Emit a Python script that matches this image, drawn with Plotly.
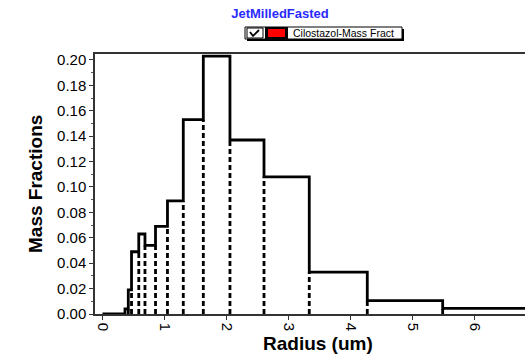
import plotly.graph_objects as go

# Particle-size bins (radius, um) and the mass fraction in each bin
bin_edges = [0.363, 0.416, 0.468, 0.585, 0.685, 0.855, 1.048, 1.303,
             1.626, 2.056, 2.605, 3.335, 4.271, 5.487, 7.05]
mass_fractions = [0.004, 0.019, 0.049, 0.063, 0.054, 0.069, 0.089, 0.153,
                  0.203, 0.137, 0.108, 0.033, 0.0105, 0.0045]
x_ticks = [0, 1, 2, 3, 4, 5, 6]
y_ticks = [0.00, 0.02, 0.04, 0.06, 0.08, 0.10, 0.12, 0.14, 0.16, 0.18, 0.20]

title_text = "JetMilledFasted"
series_name = "Cilostazol-Mass Fract"
x_title = "Radius (um)"
y_title = "Mass Fractions"

W, H = 525, 355
ML, MR, MT, MB = 95, 0, 54, 41
PW, PH = W - ML - MR, H - MT - MB
FONT = "Liberation Sans, Arial, sans-serif"


def px(xp):
    return (xp - ML) / PW


def py(yp):
    return (H - MB - yp) / PH


fig = go.Figure()

# Outline of the histogram (solid step line)
step_x = [0] + bin_edges
step_y = [0] + mass_fractions + [mass_fractions[-1]]
fig.add_trace(go.Scatter(
    x=step_x, y=step_y, mode="lines", line_shape="hv",
    line=dict(color="black", width=2.8), showlegend=False, hoverinfo="skip",
))

# Dashed dividers between neighbouring bins
for i in range(1, len(mass_fractions)):
    top = min(mass_fractions[i - 1], mass_fractions[i])
    fig.add_trace(go.Scatter(
        x=[bin_edges[i], bin_edges[i]], y=[0, top], mode="lines",
        line=dict(color="black", width=2.8, dash="5px,3px"),
        showlegend=False, hoverinfo="skip",
    ))

shapes = []
# Legend frame with drop shadow
shapes.append(dict(type="rect", xref="paper", yref="paper",
                   x0=px(247), x1=px(404), y0=py(41), y1=py(29),
                   fillcolor="black", line=dict(width=0)))
shapes.append(dict(type="rect", xref="paper", yref="paper",
                   x0=px(245), x1=px(402), y0=py(39), y1=py(27),
                   fillcolor="white", line=dict(color="black", width=1)))
# Checkbox
shapes.append(dict(type="rect", xref="paper", yref="paper",
                   x0=px(247), x1=px(263), y0=py(38), y1=py(28),
                   fillcolor="white", line=dict(color="black", width=1)))
shapes.append(dict(type="path", xref="paper", yref="paper",
                   path=(f"M {px(250)} {py(32)} L {px(253)} {py(36)} "
                         f"L {px(259)} {py(30)}"),
                   line=dict(color="black", width=1.8)))
# Colour swatch
shapes.append(dict(type="rect", xref="paper", yref="paper",
                   x0=px(265), x1=px(288), y0=py(39), y1=py(27),
                   fillcolor="black", line=dict(width=0)))
shapes.append(dict(type="rect", xref="paper", yref="paper",
                   x0=px(268), x1=px(285), y0=py(37), y1=py(29),
                   fillcolor="#ff0000", line=dict(width=0)))

annotations = [
    dict(text=series_name, xref="paper", yref="paper", x=px(291), y=py(33),
         xanchor="left", yanchor="middle", showarrow=False,
         font=dict(family=FONT, size=10.5, color="black")),
    dict(text=f"<b>{y_title}</b>", xref="paper", yref="paper", x=px(35), y=py(184),
         xanchor="center", yanchor="middle", textangle=-90, showarrow=False,
         font=dict(family=FONT, size=19, color="black")),
    dict(text=f"<b>{x_title}</b>", xref="paper", yref="paper", x=px(318), y=py(343),
         xanchor="center", yanchor="middle", showarrow=False,
         font=dict(family=FONT, size=19, color="black")),
]

fig.update_layout(
    width=W, height=H,
    margin=dict(l=ML, r=MR, t=MT, b=MB, pad=0),
    paper_bgcolor="white", plot_bgcolor="white",
    title=dict(text=f"<b>{title_text}</b>", xref="container", yref="container",
               x=280 / W, y=1 - 13 / H, xanchor="center", yanchor="middle",
               font=dict(family=FONT, size=13, color="#2a2aff")),
    shapes=shapes, annotations=annotations, showlegend=False,
    xaxis=dict(range=[-0.121, 6.815], tickvals=x_ticks, ticktext=[str(v) for v in x_ticks],
               tickangle=90, ticks="outside", ticklen=4, tickwidth=1, tickcolor="#333",
               showline=True, linecolor="#333", linewidth=1.5, mirror=True,
               showgrid=False, zeroline=False,
               tickfont=dict(family=FONT, size=15, color="#000")),
    yaxis=dict(range=[0, 0.2047], tickvals=y_ticks, ticktext=[f"{v:.2f}" for v in y_ticks],
               ticks="outside", ticklen=4, tickwidth=1, tickcolor="#333",
               minor=dict(dtick=0.01, tick0=0, ticks="outside", ticklen=2, tickcolor="#555"),
               showline=True, linecolor="#333", linewidth=1.5, mirror=False,
               showgrid=False, zeroline=False,
               tickfont=dict(family=FONT, size=15, color="#000")),
)

fig.write_html("out.html")
